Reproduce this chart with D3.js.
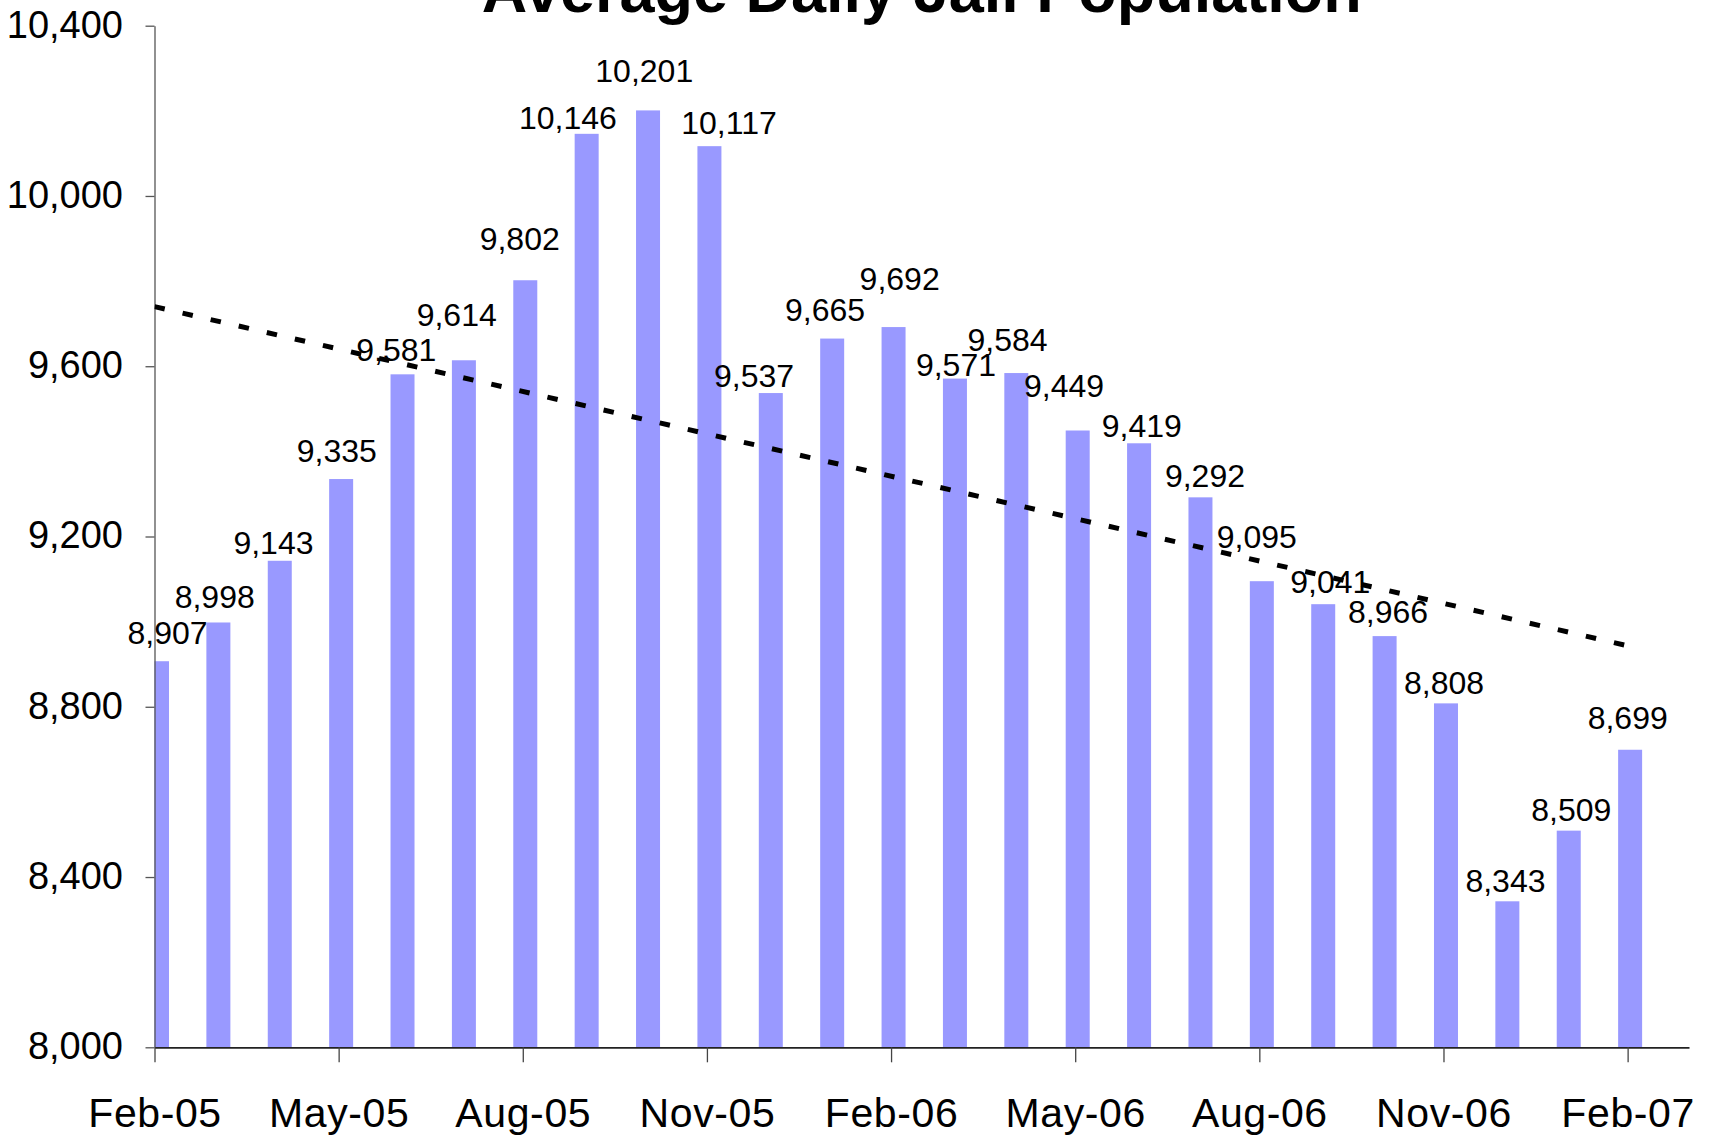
<!DOCTYPE html>
<html>
<head>
<meta charset="utf-8">
<script src="https://cdn.jsdelivr.net/npm/d3@7"></script>
<style>
  html, body { margin: 0; padding: 0; background: #ffffff; }
  svg { display: block; }
  text { font-family: "Liberation Sans", Arial, sans-serif; }
</style>
</head>
<body>
<svg id="chart" width="1713" height="1139"></svg>
<script>
// ---- data ----
const months = ["Feb-05","Mar-05","Apr-05","May-05","Jun-05","Jul-05","Aug-05","Sep-05","Oct-05","Nov-05","Dec-05","Jan-06",
                "Feb-06","Mar-06","Apr-06","May-06","Jun-06","Jul-06","Aug-06","Sep-06","Oct-06","Nov-06","Dec-06","Jan-07","Feb-07"];
const population = [8907, 8998, 9143, 9335, 9581, 9614, 9802, 10146, 10201, 10117, 9537, 9665, 9692,
                    9571, 9584, 9449, 9419, 9292, 9095, 9041, 8966, 8808, 8343, 8509, 8699];
const yTickValues = [8000, 8400, 8800, 9200, 9600, 10000, 10400];
const xTickMonths = ["Feb-05","May-05","Aug-05","Nov-05","Feb-06","May-06","Aug-06","Nov-06","Feb-07"];
const trendMonths = ["Feb-05", "Feb-07"];
const trendValues = [9740, 8942];
const chartTitle = "Average Daily Jail Population";

// ---- layout: manual data-label nudges (px) as placed in the original ----
const labelDx = [10.5,-3.7,-6.3,-4.3,-6.2,-7.2,-5.6,-18.7,-3.8,19.6,-16.8,-7.2,6.1,1,-8.8,-13.7,2.7,4.5,-5.1,7.1,3.4,-2,-1.9,2.6,-2.4];
const labelDy = [-17.2,-14.2,-6.8,-17.4,-13.4,-34.7,-30.4,-5.1,-28,-12.4,-6.5,-17.7,-37.2,-2.7,-22.5,-33.9,-6.7,-10.1,-32.9,-10.9,-12.8,-9,-9.4,-9.5,-20.3];

(function () {
const svg = d3.select("#chart");
const pLeft = 154.5, pRight = 1689, pTop = 25.7, pBottom = 1047.3;

const x = d3.scaleLinear().domain([0, months.length]).range([pLeft, pRight]);
const y = d3.scaleLinear().domain([8000, 10400]).range([pBottom, pTop]);
const barW = 24, barShift = 2.5;
const cx = i => x(i) + barShift;

svg.append("rect").attr("width", 1713).attr("height", 1139).attr("fill", "#fff");

svg.append("defs").append("clipPath").attr("id", "plotclip")
  .append("rect").attr("x", pLeft).attr("y", 0).attr("width", pRight - pLeft).attr("height", pBottom);

// bars
svg.append("g").attr("clip-path", "url(#plotclip)")
  .selectAll("rect").data(population).join("rect")
  .attr("x", (d, i) => cx(i) - barW / 2)
  .attr("y", d => y(d))
  .attr("width", barW)
  .attr("height", d => pBottom - y(d))
  .attr("fill", "#9999ff");

// y axis
const yAxis = svg.append("g").attr("transform", `translate(${pLeft},0)`)
  .call(d3.axisLeft(y).tickValues(yTickValues).tickSize(9).tickSizeOuter(0).tickPadding(22.5)
    .tickFormat(d3.format(",")));
yAxis.select(".domain").attr("stroke", "#555").attr("stroke-width", 1.3);
yAxis.selectAll(".tick line").attr("stroke", "#555").attr("stroke-width", 1.3);
yAxis.selectAll(".tick text").attr("font-size", 38).attr("fill", "#000")
  .attr("font-family", "'Liberation Sans', Arial, sans-serif").attr("dy", "0.3em");

// x axis
const xTickIdx = xTickMonths.map(m => months.indexOf(m));
const xAxis = svg.append("g").attr("transform", `translate(0,${pBottom})`)
  .call(d3.axisBottom(x).tickValues(xTickIdx).tickSize(15).tickSizeOuter(0).tickPadding(35.5)
    .tickFormat(i => months[i]));
xAxis.select(".domain").attr("stroke", "#222").attr("stroke-width", 1.8);
xAxis.selectAll(".tick line").attr("stroke", "#444").attr("stroke-width", 1.3);
xAxis.selectAll(".tick text").attr("font-size", 41).attr("fill", "#000")
  .attr("letter-spacing", "0.6px")
  .attr("font-family", "'Liberation Sans', Arial, sans-serif");

// data labels
svg.append("g").selectAll("text").data(population).join("text")
  .attr("x", (d, i) => cx(i) + labelDx[i])
  .attr("y", (d, i) => y(d) + labelDy[i])
  .attr("text-anchor", "middle")
  .attr("font-size", 32)
  .attr("fill", "#000")
  .text(d => d3.format(",")(d));

// linear trend line (dashed)
const trendPts = trendMonths.map((m, k) => [months.indexOf(m), trendValues[k]]);
svg.append("path").attr("clip-path", "url(#plotclip)")
  .datum(trendPts)
  .attr("d", d3.line().x((d, k) => k === 0 ? x(d[0]) : cx(d[0])).y(d => y(d[1])))
  .attr("fill", "none")
  .attr("stroke", "#000")
  .attr("stroke-width", 5)
  .attr("stroke-dasharray", "10.5 18.3");

// title (partly cut off at the top as in the original)
svg.append("text")
  .attr("x", (pLeft + pRight) / 2)
  .attr("y", 12)
  .attr("text-anchor", "middle")
  .attr("font-size", 63)
  .attr("font-weight", "bold")
  .attr("fill", "#000")
  .text(chartTitle);
})();
</script>
</body>
</html>
